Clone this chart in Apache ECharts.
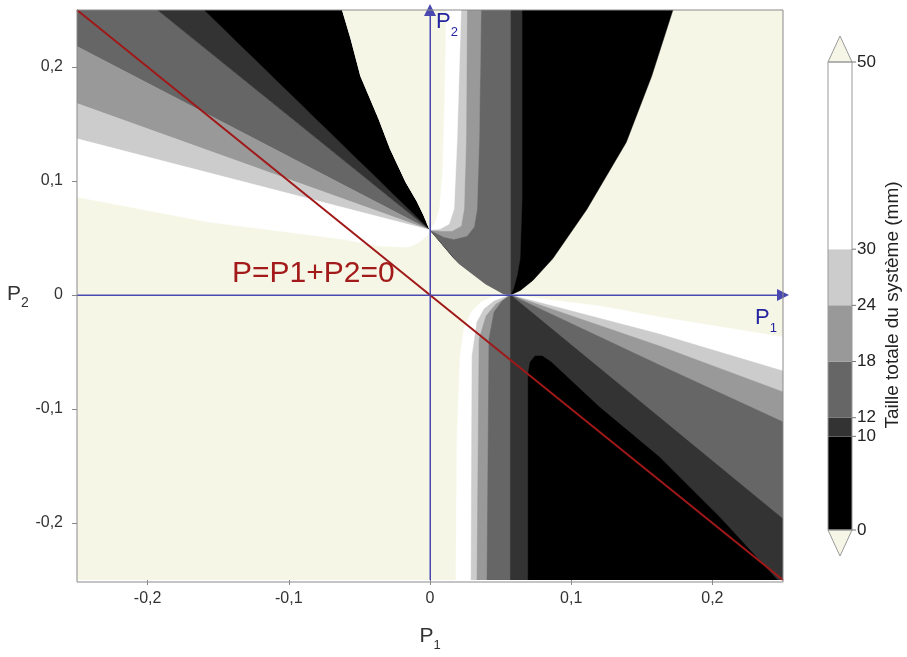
<!DOCTYPE html>
<html><head><meta charset="utf-8">
<script src="https://cdn.jsdelivr.net/npm/echarts@6/dist/echarts.min.js"></script>
<style>html,body{margin:0;padding:0;background:#fff}#c{width:907px;height:657px}</style>
</head><body><div id="c"></div>
<script>
// ---- contour levels (mm) and tick labels ----
const levels = [0, 10, 12, 18, 24, 30, 50];
const xTicks = [-0.2, -0.1, 0, 0.1, 0.2];
const yTicks = [-0.2, -0.1, 0, 0.1, 0.2];

// ---- contour boundaries in (P1, P2) ----
// left branch of the black "parabola", from the top down to the point on the P2 axis
const branchUpper = [[-0.062,0.25],[-0.056,0.225],[-0.049,0.192],[-0.036,0.154],[-0.028,0.128],[-0.017,0.099],[-0.009,0.082],[-0.004,0.069],[0,0.057]];
// upper-left fan (all bands meet at (0, 0.057))
const fan12 = [[-0.25,0.25],[-0.193,0.25],[0,0.057],[-0.25,0.218]];
const fan10 = [[-0.193,0.25],[-0.160,0.25],[0,0.057]];
const fan18 = [[-0.25,0.218],[0,0.057],[-0.25,0.168]];
const fan24 = [[-0.25,0.168],[0,0.057],[-0.25,0.137]];
const fan30 = [[-0.25,0.137],[0,0.057],[-0.002,0.052],[-0.008,0.046],[-0.015,0.042],[-0.036,0.043],[-0.062,0.049],[-0.093,0.054],[-0.157,0.064],[-0.25,0.086]];
// black (< 10 mm) region: fan wedge + inside of the parabola
const black0 = [[-0.160,0.25],[0,0.057],[0.017,0.032],[0.036,0.014],[0.050,0.004],[0.057,0],[0.064,0.004],[0.073,0.013],[0.087,0.032],[0.111,0.075],[0.139,0.134],[0.157,0.192],[0.172,0.25]];
// inner contours of the upper part (from (0,0.057) towards the top)
const up10 = [[0.0195,0.029],[0.0385,0.011],[0.0515,0.0015],[0.057,0],[0.059,0.005],[0.0617,0.017],[0.0638,0.032],[0.0652,0.084],[0.0652,0.25]];
const up12 = [[0.0205,0.0275],[0.0395,0.0095],[0.052,0.001],[0.057,0],[0.057,0.25]];
const up18 = [[0.0043,0.0544],[0.0099,0.0509],[0.017,0.049],[0.0262,0.0518],[0.0312,0.0596],[0.0333,0.0754],[0.0348,0.134],[0.0362,0.25]];
const up24 = [[0.0078,0.0561],[0.0156,0.0561],[0.022,0.0605],[0.0241,0.0754],[0.0255,0.134],[0.0262,0.25]];
const up30 = [[0.0071,0.0579],[0.0135,0.0623],[0.017,0.0754],[0.0191,0.134],[0.022,0.25]];
const up50 = [[0.0035,0.064],[0.0064,0.0754],[0.0085,0.104],[0.0099,0.163],[0.0113,0.25]];
// lower part (bands meet at (0.057, 0))
const low30 = [[0.0184,-0.25],[0.0191,-0.126],[0.0213,-0.0535],[0.0241,-0.0298],[0.0291,-0.0149],[0.0362,-0.0061],[0.044,-0.0018],[0.057,0],[0.12,-0.0096],[0.1624,-0.0193],[0.25,-0.0368],[0.25,-0.25]];
const low24 = [[0.0291,-0.25],[0.0298,-0.0535],[0.0333,-0.0237],[0.0383,-0.0123],[0.0454,-0.0053],[0.057,0],[0.1624,-0.0342],[0.25,-0.0667],[0.25,-0.25]];
const low18 = [[0.0333,-0.25],[0.0348,-0.0386],[0.0397,-0.0184],[0.0468,-0.0079],[0.057,0],[0.1624,-0.0447],[0.25,-0.0851],[0.25,-0.25]];
const low12 = [[0.0404,-0.25],[0.0418,-0.0386],[0.0454,-0.0149],[0.0511,-0.0053],[0.057,0],[0.1624,-0.0614],[0.25,-0.1114],[0.25,-0.25]];
const low10 = [[0.057,-0.25],[0.057,0],[0.25,-0.1965],[0.25,-0.25]];
const low0 = [[0.0695,-0.25],[0.0695,-0.0693],[0.0709,-0.0588],[0.0745,-0.0535],[0.0794,-0.0535],[0.0858,-0.0588],[0.1199,-0.0982],[0.1624,-0.1421],[0.205,-0.1947],[0.2461,-0.25]];
// P = P1 + P2 = 0 line
const zeroPowerLine = [[-0.25,0.25],[0.25,-0.25]];
// P1 and P2 axes drawn inside the plot
const p1Axis = [[-0.25,0],[0.25,0]];
const p2Axis = [[0,-0.25],[0,0.25]];

// ---- styles ----
const bandColors = ['#000000','#333333','#666666','#999999','#cccccc','#ffffff','#f6f6e6'];
const FONT = '"Liberation Sans", Arial, sans-serif';

// region list: [points, band index] (band i = between levels[i] and levels[i+1], 6 = above 50)
const regions = [
  [fan12, 2], [fan10, 1], [fan18, 3], [fan24, 4], [fan30, 5],
  [black0, 0],
  [branchUpper.concat(up10), 1],
  [branchUpper.concat(up12), 2],
  [branchUpper.concat(up18), 3],
  [branchUpper.concat(up24), 4],
  [branchUpper.concat(up30), 5],
  [branchUpper.concat(up50), 6],
  [low30, 5], [low24, 4], [low18, 3], [low12, 2], [low10, 1], [low0, 0]
];

const chart = echarts.init(document.getElementById('c'), null, {renderer: 'canvas'});
const G = {left: 77, top: 10, width: 706, height: 572};
const fmt = v => String(v).replace('.', ',');

// colour bar layout: proportional bar from y=530 (0) to y=62 (50)
const cb = {x: 828, w: 24, yZero: 530, yTop: 62, tipTop: 36, tipBot: 556};
const cbY = v => cb.yZero - (cb.yZero - cb.yTop) * v / levels[levels.length - 1];
const cbGraphics = [];
for (let i = 0; i < levels.length - 1; i++) {
  cbGraphics.push({type: 'rect', shape: {x: cb.x, y: cbY(levels[i + 1]), width: cb.w, height: cbY(levels[i]) - cbY(levels[i + 1])},
    style: {fill: bandColors[i]}, z: 50});
}
cbGraphics.push({type: 'polygon', shape: {points: [[cb.x, cb.yTop], [cb.x + cb.w, cb.yTop], [cb.x + cb.w / 2, cb.tipTop]]}, style: {fill: bandColors[6], stroke: '#999', lineWidth: 1}, z: 51});
cbGraphics.push({type: 'polygon', shape: {points: [[cb.x, cb.yZero], [cb.x + cb.w, cb.yZero], [cb.x + cb.w / 2, cb.tipBot]]}, style: {fill: bandColors[6], stroke: '#999', lineWidth: 1}, z: 51});
cbGraphics.push({type: 'rect', shape: {x: cb.x, y: cb.yTop, width: cb.w, height: cb.yZero - cb.yTop}, style: {fill: 'none', stroke: '#999', lineWidth: 1}, z: 52});
levels.forEach((lv) => {
  const y = cbY(lv);
  cbGraphics.push({type: 'line', shape: {x1: cb.x + cb.w, y1: y, x2: cb.x + cb.w + 4, y2: y}, style: {stroke: '#777', lineWidth: 1}, z: 52});
  cbGraphics.push({type: 'text', x: cb.x + cb.w + 5, y: y, style: {text: String(lv), font: '17px ' + FONT, fill: '#222', verticalAlign: 'middle', align: 'left'}, z: 52});
});
cbGraphics.push({type: 'text', x: 893, y: 305, rotation: Math.PI / 2,
  style: {text: 'Taille totale du système (mm)', font: '19px ' + FONT, fill: '#222', align: 'center', verticalAlign: 'middle'}, z: 52});

const axisMarkLine = {
  silent: true, symbol: ['none', 'triangle'], symbolSize: 12,
  label: {show: false},
  lineStyle: {color: '#4848b0', width: 1, type: 'solid'},
  itemStyle: {color: '#1e1ea8'}
};

const option = {
  animation: false,
  backgroundColor: '#ffffff',
  grid: {left: G.left, top: G.top, width: G.width, height: G.height, show: true, backgroundColor: bandColors[6], borderWidth: 0},
  xAxis: {
    type: 'value', min: -0.25, max: 0.25,
    axisLine: {show: false, onZero: false}, splitLine: {show: false},
    axisTick: {show: true, customValues: xTicks, length: 5, lineStyle: {color: '#888'}},
    axisLabel: {customValues: xTicks, formatter: fmt, fontSize: 16, color: '#333', fontFamily: FONT, margin: 11},
    name: 'P{s|1}', nameLocation: 'middle', nameGap: 40,
    nameTextStyle: {fontSize: 21, color: '#333', fontFamily: FONT, lineHeight: 26,
      rich: {s: {fontSize: 13, fontFamily: FONT, color: '#333', lineHeight: 32, verticalAlign: 'bottom'}}}
  },
  yAxis: {
    type: 'value', min: -0.25, max: 0.25,
    axisLine: {show: false, onZero: false}, splitLine: {show: false},
    axisTick: {show: true, customValues: yTicks, length: 5, lineStyle: {color: '#888'}},
    axisLabel: {customValues: yTicks, formatter: fmt, fontSize: 16, color: '#333', fontFamily: FONT, margin: 14}
  },
  series: [
    {
      type: 'custom', coordinateSystem: 'cartesian2d', silent: true, clip: true,
      data: regions.map((r, i) => [r[0][0][0], r[0][0][1], i]),
      renderItem: (params, api) => {
        const r = regions[params.dataIndex];
        const col = bandColors[r[1]];
        return {type: 'polygon', shape: {points: r[0].map(p => api.coord(p))},
          style: {fill: col, stroke: col, lineWidth: 0.5}};
      },
      z: 1
    },
    {
      type: 'line', data: zeroPowerLine, showSymbol: false, silent: true, z: 5,
      lineStyle: {color: '#a01818', width: 2}
    },
    {
      type: 'line', data: p1Axis, showSymbol: false, silent: true, z: 6, clip: false,
      lineStyle: {color: '#4848b0', width: 1},
      markLine: Object.assign({data: [[{coord: p1Axis[0]}, {coord: p1Axis[1]}]]}, axisMarkLine)
    },
    {
      type: 'line', data: p2Axis, showSymbol: false, silent: true, z: 6, clip: false,
      lineStyle: {color: '#4848b0', width: 1},
      markLine: Object.assign({data: [[{coord: p2Axis[0]}, {coord: p2Axis[1]}]]}, axisMarkLine)
    }
  ],
  graphic: [
    {type: 'rect', shape: {x: G.left, y: G.top, width: G.width, height: G.height}, style: {fill: 'none', stroke: '#8a8a8a', lineWidth: 1}, z: 40, silent: true},
    {type: 'text', x: 232, y: 274, style: {text: 'P=P1+P2=0', font: '30px ' + FONT, fill: '#a31a1a', verticalAlign: 'middle', align: 'left'}, z: 41},
    {type: 'text', x: 755, y: 318, style: {text: 'P{s|1}', font: '22px ' + FONT, fill: '#2424a0', verticalAlign: 'middle', align: 'left',
      rich: {s: {font: '13px ' + FONT, fill: '#2424a0', lineHeight: 34, verticalAlign: 'bottom'}}}, z: 41},
    {type: 'text', x: 436, y: 22, style: {text: 'P{s|2}', font: '22px ' + FONT, fill: '#2424a0', verticalAlign: 'middle', align: 'left',
      rich: {s: {font: '13px ' + FONT, fill: '#2424a0', lineHeight: 34, verticalAlign: 'bottom'}}}, z: 41},
    {type: 'text', x: 7, y: 294, style: {text: 'P{s|2}', font: '21px ' + FONT, fill: '#333', verticalAlign: 'middle', align: 'left',
      rich: {s: {font: '14px ' + FONT, fill: '#333', lineHeight: 32, verticalAlign: 'bottom'}}}, z: 41}
  ].concat(cbGraphics)
};
chart.setOption(option);
</script></body></html>
